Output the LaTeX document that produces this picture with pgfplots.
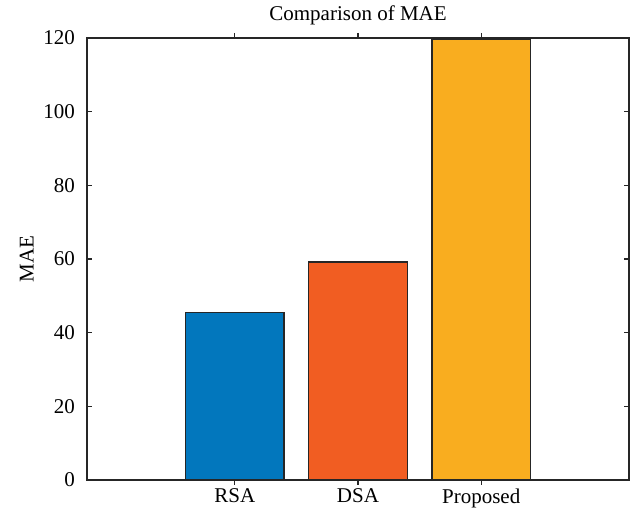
\documentclass[border=0pt]{standalone}
\usepackage{fontspec}
\setmainfont{Liberation Serif}
\usepackage{pgfplots}
\pgfplotsset{compat=1.18}
\definecolor{cRSA}{RGB}{2,119,189}
\definecolor{cDSA}{RGB}{241,93,34}
\definecolor{cPro}{RGB}{249,173,31}
\definecolor{axgray}{RGB}{38,38,38}
\begin{document}
\begin{tikzpicture}
\begin{axis}[
  scale only axis,
  width=271pt, height=221pt,
  xmin=-0.2, xmax=4.2,
  ymin=0, ymax=120,
  ytick={0,20,40,60,80,100,120},
  xtick={1,2,3},
  xticklabels={RSA,DSA,Proposed},
  tick align=inside,
  major tick length=2.5pt,
  axis line style={axgray, line width=0.7pt},
  every tick/.style={axgray, line width=0.6pt},
  font=\fontsize{10.5}{12}\selectfont,
  /pgf/number format/assume math mode=true,
  yticklabel style={xshift=-2.5pt},
  xticklabel style={yshift=1.8pt},
  ylabel={MAE},
  ylabel style={yshift=-2pt},
  title={Comparison of MAE},
  title style={yshift=-3pt},
  ybar, bar width=0.8,
  bar shift=0pt,
]
\addplot[fill=cRSA, draw=axgray, line width=0.6pt] coordinates {(1,45.4)};
\addplot[fill=cDSA, draw=axgray, line width=0.6pt] coordinates {(2,59.2)};
\addplot[fill=cPro, draw=axgray, line width=0.6pt] coordinates {(3,119.7)};
\coordinate (sw) at (rel axis cs:0,0);
\coordinate (ne) at (rel axis cs:1,1);
\end{axis}
\pgfresetboundingbox
\path ([shift={(-43.5pt,-14pt)}]sw) rectangle ([shift={(1.5pt,19pt)}]ne);
\end{tikzpicture}
\end{document}
